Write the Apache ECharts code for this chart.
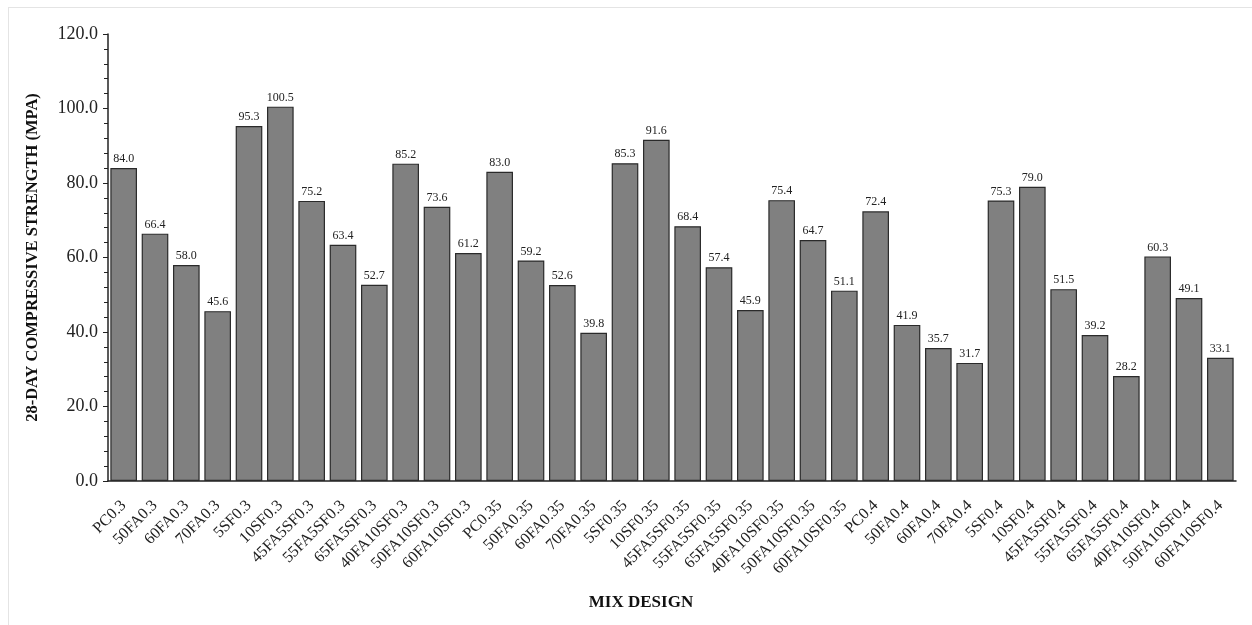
<!DOCTYPE html>
<html>
<head>
<meta charset="utf-8">
<script src="https://cdn.jsdelivr.net/npm/echarts@6/dist/echarts.min.js"></script>
<style>
html, body { margin: 0; padding: 0; background: #fff; overflow: hidden; }
/* faint frame around the figure (runs off right/bottom edge) */
.frame {
	position: absolute;
	left: 8px; top: 7px;
	width: 1260px; height: 630px;
	border: 1px solid #e4e4e4;
	box-sizing: border-box;
}
#chart { position: absolute; left: 0; top: 0; width: 1252px; height: 625px; }
</style>
</head>
<body>
<div class="frame"></div>
<div id="chart"></div>
<script>
var mixNames = ['PC0.3','50FA0.3','60FA0.3','70FA0.3','5SF0.3','10SF0.3','45FA5SF0.3','55FA5SF0.3','65FA5SF0.3','40FA10SF0.3','50FA10SF0.3','60FA10SF0.3',
	'PC0.35','50FA0.35','60FA0.35','70FA0.35','5SF0.35','10SF0.35','45FA5SF0.35','55FA5SF0.35','65FA5SF0.35','40FA10SF0.35','50FA10SF0.35','60FA10SF0.35',
	'PC0.4','50FA0.4','60FA0.4','70FA0.4','5SF0.4','10SF0.4','45FA5SF0.4','55FA5SF0.4','65FA5SF0.4','40FA10SF0.4','50FA10SF0.4','60FA10SF0.4'];
var strength28 = [84.0, 66.4, 58.0, 45.6, 95.3, 100.5, 75.2, 63.4, 52.7, 85.2, 73.6, 61.2,
	83.0, 59.2, 52.6, 39.8, 85.3, 91.6, 68.4, 57.4, 45.9, 75.4, 64.7, 51.1,
	72.4, 41.9, 35.7, 31.7, 75.3, 79.0, 51.5, 39.2, 28.2, 60.3, 49.1, 33.1];
var yMin = 0, yMax = 120, yStep = 20;

var serif = '"Liberation Serif", "DejaVu Serif", serif';
var myChart = echarts.init(document.getElementById('chart'));
var option = {
	animation: false,
	grid: { left: 108, right: 16, top: 34, bottom: 144 },
	xAxis: {
		type: 'category',
		data: mixNames,
		name: 'MIX DESIGN',
		nameLocation: 'middle',
		nameGap: 113,
		nameTextStyle: { fontFamily: serif, fontWeight: 'bold', fontSize: 17, color: '#111', padding: [0, 62, 0, 0] },
		axisLine: { lineStyle: { color: '#222', width: 1.5 } },
		axisTick: { alignWithLabel: true, length: 5, lineStyle: { color: '#222' } },
		axisLabel: { rotate: 45, interval: 0, fontFamily: serif, fontSize: 16, color: '#222', margin: 22 }
	},
	yAxis: {
		type: 'value',
		min: yMin, max: yMax, interval: yStep,
		name: '28-DAY COMPRESSIVE STRENGTH (MPA)',
		nameLocation: 'middle',
		nameGap: 67,
		nameTextStyle: { fontFamily: serif, fontWeight: 'bold', fontSize: 16.5, color: '#111' },
		axisLine: { show: true, lineStyle: { color: '#222', width: 1.5 } },
		axisTick: { show: true, length: 5, lineStyle: { color: '#222' } },
		minorTick: { show: true, splitNumber: 5, length: 4, lineStyle: { color: '#222' } },
		splitLine: { show: false },
		axisLabel: {
			fontFamily: serif, fontSize: 18, color: '#222', margin: 10,
			formatter: function (v) { return v.toFixed(1); }
		}
	},
	series: [{
		type: 'bar',
		data: strength28,
		barCategoryGap: '15%',
		itemStyle: { color: '#808080', borderColor: '#2a2a2a', borderWidth: 1.2 },
		label: {
			show: true, position: 'top', distance: 3,
			fontFamily: serif, fontSize: 12, color: '#222',
			formatter: function (p) { return p.value.toFixed(1); }
		}
	}]
};
myChart.setOption(option);
</script>
</body>
</html>
